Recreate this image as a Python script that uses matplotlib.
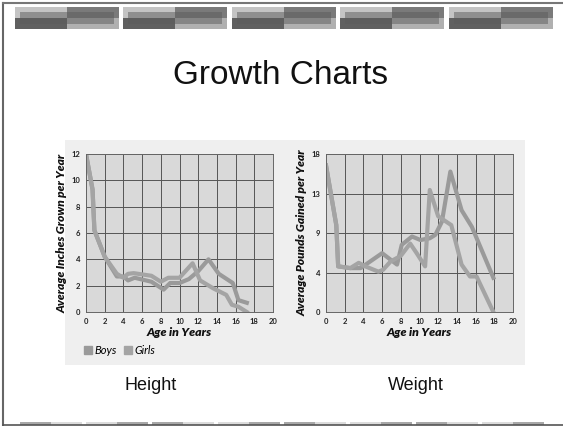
import matplotlib.pyplot as plt
from matplotlib.patches import Rectangle
from matplotlib.lines import Line2D

plt.rcParams['font.family'] = ['Lato', 'DejaVu Sans']

# Height chart data (inches grown per year)
boys_h_age = [0, 0.7, 0.9, 2, 3.3, 4, 4.5, 5.2, 7, 8.3, 9, 10, 11, 12, 13.1, 14.2, 15.7, 16.3, 17.2]
boys_h = [12, 9.3, 6.2, 4.2, 2.7, 2.7, 2.4, 2.6, 2.3, 1.7, 2.2, 2.2, 2.5, 3.1, 4.0, 2.9, 2.2, 0.9, 0.7]
girls_h_age = [0, 0.7, 0.9, 2, 3.3, 4, 4.5, 5.1, 7, 8, 8.8, 10, 11.4, 12.2, 13.6, 15, 15.6, 16.3, 17.2]
girls_h = [12, 9.3, 6.2, 4.2, 2.9, 2.6, 2.9, 2.95, 2.75, 2.3, 2.6, 2.6, 3.7, 2.4, 1.8, 1.3, 0.55, 0.4, 0]

# Weight chart data (pounds gained per year)
boys_w_age = [0, 1.1, 1.3, 2.6, 3.7, 6, 7.6, 8.1, 9.2, 10.1, 11.1, 11.7, 12.4, 13.3, 14.5, 15.6, 17.9]
boys_w = [16.7, 9.9, 5.2, 5.0, 5.0, 6.7, 5.4, 7.65, 8.6, 8.2, 8.4, 8.8, 10.3, 16.0, 11.6, 9.7, 3.9]
girls_w_age = [0, 1.1, 1.3, 2.6, 3.5, 4.2, 5.6, 6.1, 6.9, 8, 9, 9.7, 10.6, 11.1, 12, 13.4, 14.5, 15.4, 16.1, 17.9]
girls_w = [16.7, 9.9, 5.2, 5.0, 5.6, 5.2, 4.6, 4.8, 5.75, 6.4, 7.8, 6.7, 5.2, 13.9, 10.9, 9.9, 5.4, 4.05, 4.05, 0]

x_ticks = list(range(0, 21, 2))
h_ticks = list(range(0, 13, 2))
w_ticks = [0, 4.5, 9, 13.5, 18]
w_labels = ['0', '4', '9', '13', '18']

W, H = 563, 426
fig = plt.figure(figsize=(W / 100, H / 100), dpi=100)

# background layer in pixel coordinates
bg = fig.add_axes([0, 0, 1, 1])
bg.set_xlim(0, W)
bg.set_ylim(H, 0)
bg.axis('off')

# slide border
bg.plot([2.5, 2.5], [3, 425], color='#666666', lw=1.5)
bg.plot([2.5, W], [3, 3], color='#777777', lw=1.5)
bg.plot([2.5, W], [425, 425], color='#555555', lw=1.2)

# top decoration blocks
for x0 in [15, 123, 232, 340, 449]:
    bg.add_patch(Rectangle((x0, 7), 52, 11, color='#c4c4c4', lw=0))
    bg.add_patch(Rectangle((x0 + 52, 7), 52, 11, color='#7a7a7a', lw=0))
    bg.add_patch(Rectangle((x0, 18), 52, 11, color='#606060', lw=0))
    bg.add_patch(Rectangle((x0 + 52, 18), 52, 11, color='#b0b0b0', lw=0))
    bg.add_patch(Rectangle((x0 + 5, 12), 94, 12, color='#5c5c5c', alpha=0.5, lw=0))

# bottom decoration strips
for i in range(8):
    x0 = 20 + i * 66
    c1, c2 = ('#a8a8a8', '#dcdcdc') if i % 2 == 0 else ('#dcdcdc', '#a8a8a8')
    bg.add_patch(Rectangle((x0, 422), 31, 3, color=c1, lw=0))
    bg.add_patch(Rectangle((x0 + 31, 422), 31, 3, color=c2, lw=0))

# chart panel
bg.add_patch(Rectangle((65, 140), 460, 225, color='#efefef', lw=0))

bg.text(281, 76, 'Growth Charts', ha='center', va='center', fontsize=24,
        family='Liberation Sans', color='#111111')
bg.text(151, 385, 'Height', ha='center', va='center', fontsize=13,
        family='Liberation Sans', color='#111111')
bg.text(416, 385, 'Weight', ha='center', va='center', fontsize=13,
        family='Liberation Sans', color='#111111')


def make_axes(left, right, top, bottom):
    return fig.add_axes([left / W, 1 - bottom / H, (right - left) / W, (bottom - top) / H])


def style(ax, yticks, ylabels, ymax, ylabel):
    ax.set_facecolor('#d9d9d9')
    ax.set_xlim(0, 20)
    ax.set_ylim(0, ymax)
    ax.set_xticks(x_ticks)
    ax.set_yticks(yticks)
    ax.set_yticklabels(ylabels)
    ax.grid(True, color='#555555', lw=0.7)
    ax.set_axisbelow(True)
    ax.tick_params(length=0, labelsize=5.5, pad=4, colors='#222222')
    for lab in ax.get_xticklabels() + ax.get_yticklabels():
        lab.set_fontweight('bold')
    for s in ax.spines.values():
        s.set_color('#666666')
        s.set_linewidth(0.7)
    ax.set_xlabel('Age in Years', fontsize=8.8, fontweight='heavy', style='italic',
                  labelpad=2, color='#111111')
    ax.set_ylabel(ylabel, fontsize=8.6, fontweight='heavy', style='italic',
                  labelpad=3, color='#111111')


ax1 = make_axes(86, 273, 154, 312)
ax1.plot(boys_h_age, boys_h, color='#9a9a9a', lw=3, solid_joinstyle='round')
ax1.plot(girls_h_age, girls_h, color='#a4a4a4', lw=3, solid_joinstyle='round')
style(ax1, h_ticks, [str(t) for t in h_ticks], 12, 'Average Inches Grown per Year')

ax2 = make_axes(326, 513, 154, 312)
ax2.plot(boys_w_age, boys_w, color='#9a9a9a', lw=3, solid_joinstyle='round')
ax2.plot(girls_w_age, girls_w, color='#a4a4a4', lw=3, solid_joinstyle='round')
style(ax2, w_ticks, w_labels, 18, 'Average Pounds Gained per Year')

handles = [Line2D([], [], marker='s', ls='', color='#9a9a9a', markersize=6),
           Line2D([], [], marker='s', ls='', color='#a4a4a4', markersize=6)]
fig.legend(handles, ['Boys', 'Girls'], loc='center left',
           bbox_to_anchor=(72 / W, 1 - 350 / H), ncol=2, frameon=False,
           prop={'size': 8, 'style': 'italic'}, handletextpad=0.1,
           columnspacing=0.5, handlelength=1)

fig.savefig('out.png', dpi=100)
